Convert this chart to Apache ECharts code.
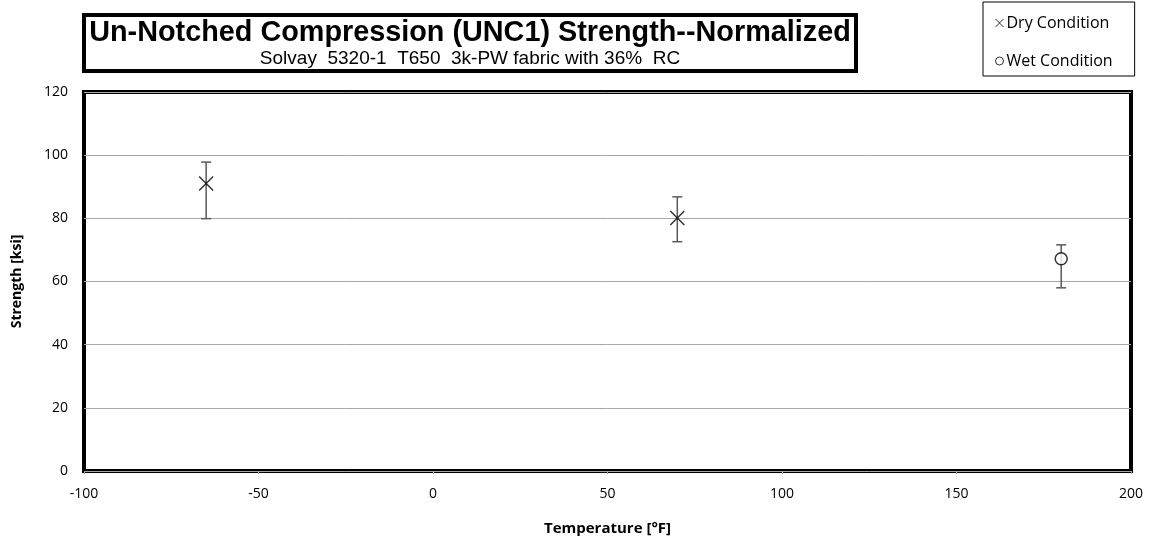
<!DOCTYPE html>
<html>
<head>
<meta charset="utf-8">
<script src="https://cdn.jsdelivr.net/npm/echarts@6/dist/echarts.min.js"></script>
<style>
  html, body { margin: 0; padding: 0; background: #fff; }
  #chart { width: 1151px; height: 544px; }
</style>
</head>
<body>
<div id="chart"></div>
<script>
// temperatures [F], mean strength and error bar ends [ksi]
var dryTemps = [-65, 70];
var dryMean = [91.0, 80.1];
var dryHigh = [97.8, 86.8];
var dryLow = [79.9, 72.6];

var wetTemps = [180];
var wetMean = [67.2];
var wetHigh = [71.6];
var wetLow = [58.0];

var crossPath = 'path://M0,0L10,10M10,0L0,10';

function pairs(xs, ys) {
    return xs.map(function (x, i) { return [x, ys[i]]; });
}
function bars(xs, lo, hi) {
    return xs.map(function (x, i) { return [x, lo[i], hi[i]]; });
}

function renderErr(params, api) {
    var lo = api.coord([api.value(0), api.value(1)]);
    var hi = api.coord([api.value(0), api.value(2)]);
    var w = 5;
    var st = { stroke: '#595959', lineWidth: 1.5 };
    return {
        type: 'group',
        children: [
            { type: 'line', shape: { x1: lo[0], y1: lo[1], x2: hi[0], y2: hi[1] }, style: st },
            { type: 'line', shape: { x1: lo[0] - w, y1: lo[1], x2: lo[0] + w, y2: lo[1] }, style: st },
            { type: 'line', shape: { x1: hi[0] - w, y1: hi[1], x2: hi[0] + w, y2: hi[1] }, style: st }
        ]
    };
}

var chart = echarts.init(document.getElementById('chart'));
var option = {
    animation: false,
    title: {
        text: 'Un-Notched Compression (UNC1) Strength--Normalized',
        subtext: 'Solvay  5320-1  T650  3k-PW fabric with 36%  RC',
        left: 465,
        top: 15,
        textAlign: 'center',
        padding: [4, 5, 3, 5],
        itemGap: 1,
        borderColor: '#000',
        borderWidth: 4,
        textStyle: { fontFamily: 'Liberation Sans', fontSize: 28.8, fontWeight: 'bold', color: '#000' },
        subtextStyle: { fontFamily: 'Liberation Sans', fontSize: 19, color: '#000' }
    },
    legend: {
        orient: 'vertical',
        left: 983,
        top: 2,
        padding: [13, 22, 7, 10],
        itemGap: 22,
        itemWidth: 8,
        itemHeight: 8,
        borderColor: '#000',
        borderWidth: 1,
        itemStyle: { borderWidth: 1 },
        textStyle: { fontFamily: 'Open Sans', fontSize: 16, color: '#000', padding: [0, 0, 0, -2] },
        data: ['Dry Condition', 'Wet Condition']
    },
    grid: {
        left: 84,
        right: 20,
        top: 92,
        bottom: 73,
        show: true,
        borderColor: '#000',
        borderWidth: 4
    },
    xAxis: {
        type: 'value',
        min: -100,
        max: 200,
        interval: 50,
        name: 'Temperature [°F]',
        nameLocation: 'middle',
        nameGap: 50,
        nameTextStyle: { fontFamily: 'Open Sans', fontSize: 15, fontWeight: 'bold', color: '#000' },
        axisLine: { show: false },
        axisTick: { show: true, length: 3, lineStyle: { color: '#a6a6a6' } },
        axisLabel: { fontFamily: 'Open Sans', fontSize: 14, color: '#000', margin: 16 },
        splitLine: { show: false }
    },
    yAxis: {
        type: 'value',
        min: 0,
        max: 120,
        interval: 20,
        name: 'Strength [ksi]',
        nameLocation: 'middle',
        nameGap: 60,
        nameTextStyle: { fontFamily: 'Open Sans', fontSize: 14, fontWeight: 'bold', color: '#000' },
        axisLine: { show: false },
        axisTick: { show: true, length: 3, lineStyle: { color: '#a6a6a6' } },
        axisLabel: { fontFamily: 'Open Sans', fontSize: 14, color: '#000', margin: 16 },
        splitLine: { lineStyle: { color: '#a6a6a6', width: 1 } }
    },
    series: [
        {
            type: 'custom',
            name: 'dryErr',
            renderItem: renderErr,
            data: bars(dryTemps, dryLow, dryHigh),
            z: 2
        },
        {
            type: 'custom',
            name: 'wetErr',
            renderItem: renderErr,
            data: bars(wetTemps, wetLow, wetHigh),
            z: 2
        },
        {
            type: 'scatter',
            name: 'Dry Condition',
            symbol: crossPath,
            symbolSize: 14,
            itemStyle: { color: 'none', borderColor: '#000', borderWidth: 1.5 },
            data: pairs(dryTemps, dryMean),
            z: 3
        },
        {
            type: 'scatter',
            name: 'Wet Condition',
            symbol: 'circle',
            symbolSize: 12,
            itemStyle: { color: '#fff', borderColor: '#000', borderWidth: 1.5 },
            data: pairs(wetTemps, wetMean),
            z: 3
        }
    ]
};
chart.setOption(option);
</script>
</body>
</html>
